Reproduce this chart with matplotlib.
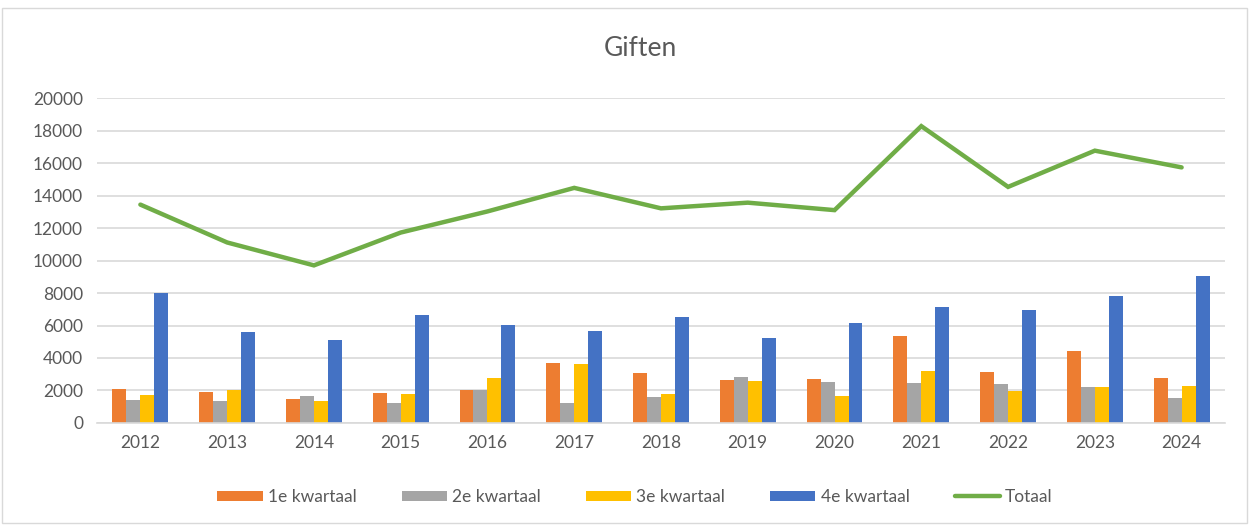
import numpy as np
import matplotlib
matplotlib.use("Agg")
import matplotlib.pyplot as plt
from matplotlib.patches import Rectangle

plt.rcParams['font.family'] = ['Lato', 'DejaVu Sans']

years = ['2012', '2013', '2014', '2015', '2016', '2017', '2018',
         '2019', '2020', '2021', '2022', '2023', '2024']

q1 = [2080, 1900, 1460, 1830, 2060, 3690, 3070, 2650, 2700, 5360, 3130, 4410, 2790]
q2 = [1420, 1340, 1650, 1260, 2000, 1260, 1630, 2840, 2500, 2480, 2390, 2230, 1520]
q3 = [1710, 2060, 1340, 1770, 2740, 3600, 1770, 2570, 1690, 3200, 1940, 2190, 2250]
q4 = [8020, 5620, 5090, 6630, 6010, 5660, 6540, 5250, 6130, 7140, 6970, 7840, 9060]
totaal = [13440, 11110, 9700, 11720, 13020, 14470, 13210, 13560, 13100,
          18270, 14530, 16760, 15730]

labels = ['1e kwartaal', '2e kwartaal', '3e kwartaal', '4e kwartaal']
colors = ['#ED7D31', '#A5A5A5', '#FFC000', '#4472C4']
line_color = '#70AD47'
text_color = '#595959'
grid_color = '#D9D9D9'

fig = plt.figure(figsize=(12.5, 5.25), dpi=100)
ax = fig.add_axes([0.0776, 0.1943, 0.9024, 0.619])

x = np.arange(len(years))
w = 0.161
handles = []
for i, (vals, lab, col) in enumerate(zip([q1, q2, q3, q4], labels, colors)):
    b = ax.bar(x + (i - 1.5) * w, vals, width=w, color=col, label=lab, zorder=2)
    handles.append(b)

ln, = ax.plot(x, totaal, color=line_color, lw=3.2, label='Totaal', zorder=3,
              solid_capstyle='round', solid_joinstyle='miter')
handles.append(ln)

ax.set_xlim(-0.5, len(years) - 0.5)
ax.set_ylim(0, 20000)
ax.set_yticks(np.arange(0, 20001, 2000))
ax.set_xticks(x)
ax.set_xticklabels(years)
ax.yaxis.grid(True, color=grid_color, lw=1.2, zorder=0)
ax.set_axisbelow(True)
for s in ['top', 'right', 'left']:
    ax.spines[s].set_visible(False)
ax.spines['bottom'].set_color(grid_color)
ax.spines['bottom'].set_linewidth(1.2)
ax.tick_params(axis='both', length=0, labelsize=12.5, labelcolor=text_color)
ax.tick_params(axis='x', pad=9)
ax.tick_params(axis='y', pad=10)

fig.text(0.512, 0.908, 'Giften', ha='center', va='center', fontsize=19,
         color=text_color)

leg = fig.legend(handles, labels + ['Totaal'], loc='center',
                 bbox_to_anchor=(0.508, 0.053), ncol=5,
                 frameon=False, fontsize=12.5, handlelength=2.6,
                 handleheight=0.55, columnspacing=2.6, handletextpad=0.3)
for t in leg.get_texts():
    t.set_color(text_color)

fig.patches.append(Rectangle((0.0015, 0.003), 0.996, 0.982, transform=fig.transFigure,
                             fill=False, edgecolor='#D9D9D9', lw=1))

fig.savefig('out.png', dpi=100)
